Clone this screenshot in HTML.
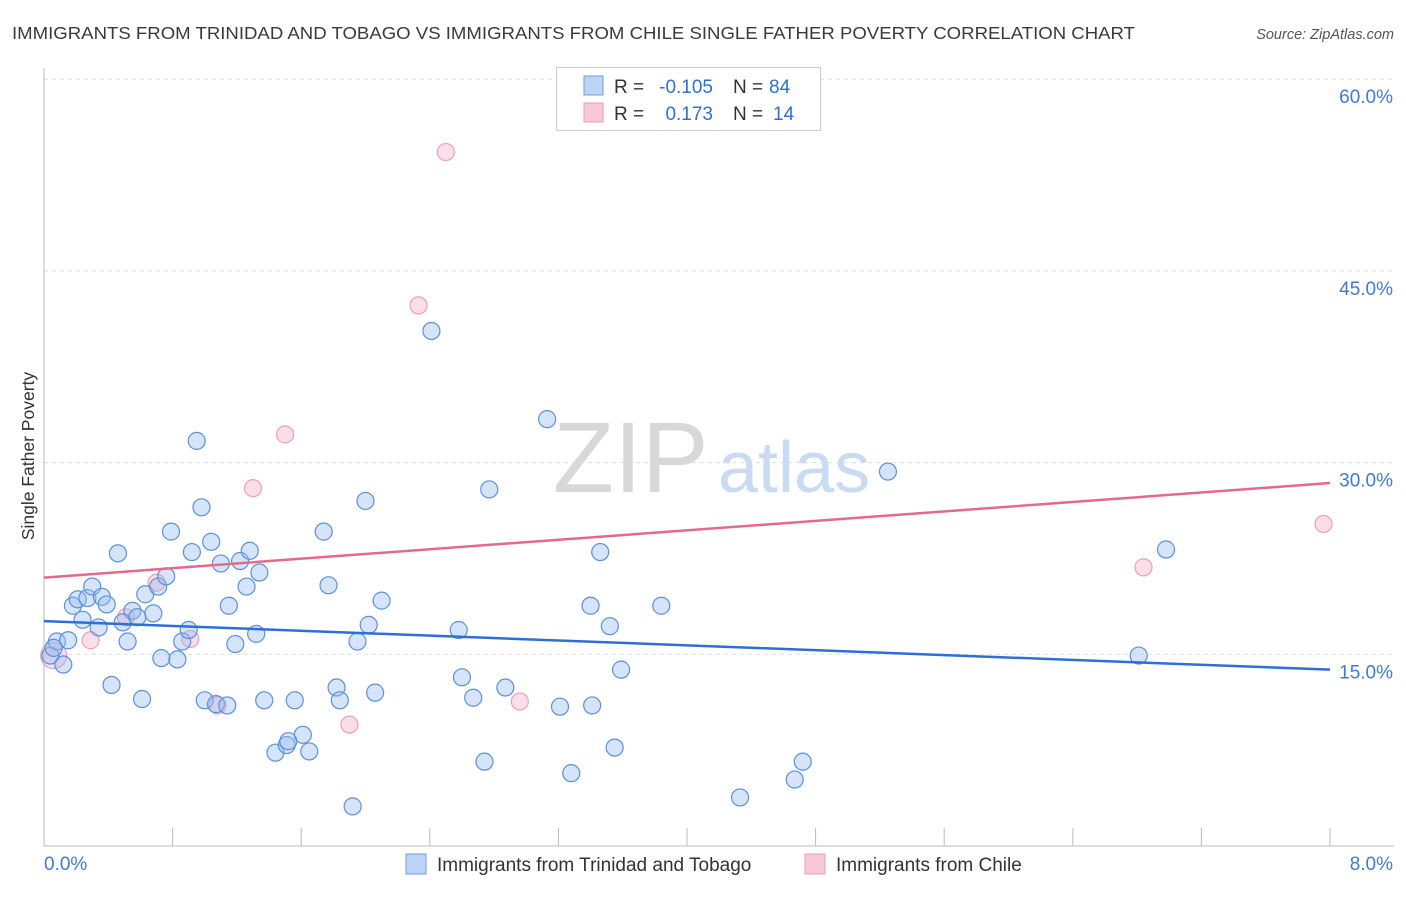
<!DOCTYPE html>
<html><head><meta charset="utf-8"><style>
body{margin:0;background:#fff;font-family:"Liberation Sans",sans-serif;}
svg text{font-family:"Liberation Sans",sans-serif;}
</style></head><body>
<svg id="chart" width="1406" height="892" xmlns="http://www.w3.org/2000/svg">
<text x="12" y="39" font-size="17.5" fill="#3a3a3a" textLength="1123" lengthAdjust="spacingAndGlyphs">IMMIGRANTS FROM TRINIDAD AND TOBAGO VS IMMIGRANTS FROM CHILE SINGLE FATHER POVERTY CORRELATION CHART</text>
<text x="1394" y="39" font-size="14.5" fill="#555" font-style="italic" text-anchor="end">Source: ZipAtlas.com</text>
<g>
<text x="553" y="492" font-size="100" fill="#d8d8d8" font-family="Liberation Serif, serif">ZIP</text>
<text x="718" y="492" font-size="72" fill="#c9daf3">atlas</text>
</g>
<g id="grid"></g>
<g id="axes"></g>
<g id="marks"></g>
<g>
<rect x="556.5" y="67.5" width="264" height="63" fill="#fff" stroke="#ccc"/>
<rect x="584" y="76" width="19" height="19" fill="#bcd4f6" stroke="#6d9ee6"/>
<rect x="584" y="103" width="19" height="19" fill="#f9c9d8" stroke="#ec9bb5"/>
<text x="614" y="93" font-size="19" fill="#333">R =</text>
<text x="713" y="93" font-size="19" fill="#2f6fd6" text-anchor="end">-0.105</text>
<text x="733" y="93" font-size="19" fill="#333">N =</text>
<text x="769" y="93" font-size="19" fill="#2f6fd6">84</text>
<text x="614" y="120" font-size="19" fill="#333">R =</text>
<text x="713" y="120" font-size="19" fill="#2f6fd6" text-anchor="end">0.173</text>
<text x="733" y="120" font-size="19" fill="#333">N =</text>
<text x="773" y="120" font-size="19" fill="#2f6fd6">14</text>
</g>
<text transform="translate(34,456) rotate(-90)" font-size="17.5" fill="#333" text-anchor="middle">Single Father Poverty</text>
<g>
<rect x="406" y="854" width="20" height="20" fill="#bcd4f6" stroke="#6d9ee6"/>
<text x="437" y="871" font-size="19" fill="#333">Immigrants from Trinidad and Tobago</text>
<rect x="805" y="854" width="20" height="20" fill="#f9c9d8" stroke="#ec9bb5"/>
<text x="836" y="871" font-size="19" fill="#333">Immigrants from Chile</text>
</g>
</svg>
<script>
const blueX=[0.04,0.08,0.12,0.15,0.18,0.21,0.24,0.27,0.30,0.34,0.36,0.39,0.42,0.46,0.49,0.52,0.55,0.58,0.61,0.63,0.68,0.71,0.73,0.76,0.79,0.83,0.86,0.90,0.92,0.95,0.98,1.00,1.04,1.07,1.10,1.14,1.15,1.19,1.22,1.26,1.28,1.32,1.34,1.37,1.44,1.51,1.52,1.56,1.61,1.65,1.74,1.77,1.82,1.84,1.92,1.95,2.00,2.02,2.06,2.10,2.41,2.58,2.60,2.67,2.74,2.77,2.87,3.13,3.21,3.28,3.40,3.41,3.46,3.52,3.55,3.59,3.84,4.33,4.67,4.72,5.25,6.81,6.98,0.06];
const blueY=[14.9,16.0,14.2,16.1,18.8,19.3,17.7,19.4,20.3,17.1,19.5,18.9,12.6,22.9,17.5,16.0,18.4,17.9,11.5,19.7,18.2,20.3,14.7,21.1,24.6,14.6,16.0,16.9,23.0,31.7,26.5,11.4,23.8,11.1,22.1,11.0,18.8,15.8,22.3,20.3,23.1,16.6,21.4,11.4,7.3,7.9,8.2,11.4,8.7,7.4,24.6,20.4,12.4,11.4,3.1,16.0,27.0,17.3,12.0,19.2,40.3,16.9,13.2,11.6,6.6,27.9,12.4,33.4,10.9,5.7,18.8,11.0,23.0,17.2,7.7,13.8,18.8,3.8,5.2,6.6,29.3,14.9,23.2,15.5];
const pinkX=[0.06,0.29,0.51,0.70,0.91,1.08,1.30,1.50,1.90,2.33,2.50,2.96,6.84,7.96];
const pinkY=[14.9,16.1,17.9,20.6,16.2,11.0,28.0,32.2,9.5,42.3,54.3,11.3,21.8,25.2];
const blueTrend=[17.6,13.8];
const pinkTrend=[21.0,28.4];
const yTicks=[15,30,45,60];
const yTickLabels=["15.0%","30.0%","45.0%","60.0%"];
const xTickVals=[0,0.8,1.6,2.4,3.2,4.0,4.8,5.6,6.4,7.2,8.0];
const xLabels=["0.0%","8.0%"];
const X=v=>44+v/8*1286, Y=v=>846-v/15*191.7;
const NS="http://www.w3.org/2000/svg";
function mk(p,t,a){const e=document.createElementNS(NS,t);for(const k in a)e.setAttribute(k,a[k]);p.appendChild(e);return e;}
const grid=document.getElementById('grid'),axes=document.getElementById('axes'),marks=document.getElementById('marks');
yTicks.forEach((v,i)=>{
 const l=mk(grid,'line',{x1:44,x2:1394,y1:Y(v),y2:Y(v),stroke:'#ddd','stroke-dasharray':'4,4'});
 
 
 const t=mk(axes,'text',{x:1393,y:Y(v)+24,'font-size':19,fill:'#3f7ad8','text-anchor':'end'});
 t.textContent=yTickLabels[i];
 
 
});
const ya=mk(axes,'line',{x1:44,x2:44,y1:68,y2:846,stroke:'#bbb'});


const xa=mk(axes,'line',{x1:44,x2:1394,y1:846,y2:846,stroke:'#bbb'});


xTickVals.forEach(v=>{
 const t=mk(axes,'line',{x1:X(v),x2:X(v),y1:828,y2:846,stroke:'#bbb'});
 
 
});
[[X(0),'start',xLabels[0]],[1393,'end',xLabels[1]]].forEach(a=>{
 const t=mk(axes,'text',{x:a[0],y:870,'font-size':19,fill:'#3f7ad8','text-anchor':a[1]});
 t.textContent=a[2];
 
 
});
pinkX.forEach((x,i)=>{
 const c=mk(marks,'circle',{cx:X(x),cy:Y(pinkY[i]),r:i===0?13:8.5,fill:'rgba(246,172,197,0.4)',stroke:'#eba0b9','stroke-width':1.2});
 
 
});
blueX.forEach((x,i)=>{
 const c=mk(marks,'circle',{cx:X(x),cy:Y(blueY[i]),r:8.5,fill:'rgba(150,188,240,0.4)',stroke:'#5b90dd','stroke-width':1.2});
 
 
});
const bl=mk(marks,'line',{x1:X(0),x2:X(8),y1:Y(blueTrend[0]),y2:Y(blueTrend[1]),stroke:'#2d6fd6','stroke-width':2.5});


const pl=mk(marks,'line',{x1:X(0),x2:X(8),y1:Y(pinkTrend[0]),y2:Y(pinkTrend[1]),stroke:'#e4698f','stroke-width':2.5});


</script>
</body></html>
